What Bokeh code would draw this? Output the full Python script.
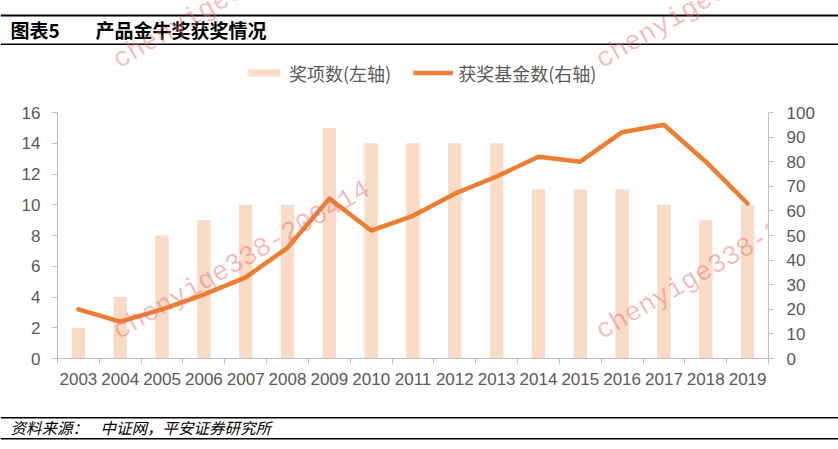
import math
from bokeh.plotting import figure
from bokeh.layouts import column
from bokeh.models import (Range1d, LinearAxis, FixedTicker, Label, Legend, LegendItem)
from bokeh.embed import file_html
from bokeh.resources import INLINE

# ---- data ----
years = ["2003", "2004", "2005", "2006", "2007", "2008", "2009", "2010", "2011",
         "2012", "2013", "2014", "2015", "2016", "2017", "2018", "2019"]
award_items = [2, 4, 8, 9, 10, 10, 15, 14, 14, 14, 14, 11, 11, 11, 10, 9, 10]
winning_funds = [20, 15, 20, 26, 33, 45, 65, 52, 58, 67, 74, 82, 80, 92, 95, 80, 63]
left_ticks = [0, 2, 4, 6, 8, 10, 12, 14, 16]
right_ticks = [0, 10, 20, 30, 40, 50, 60, 70, 80, 90, 100]
title_no = "图表5"
title_text = "产品金牛奖获奖情况"
legend_bar = "奖项数(左轴)"
legend_line = "获奖基金数(右轴)"
source_a = "资料来源："
source_b = "中证网，平安证券研究所"
watermark = "chenyige338-200414"

xs = list(range(len(years)))

BAR = "#FADBC6"
LINE = "#ED7D31"
AXIS = "#BFBFBF"
TXT = "#595959"
WM = "#EE6A6A"
W = 838
HEAD_H, MAIN_H, FOOT_H = 102, 298, 49
ANG = math.radians(30)


def plain_fig(h):
    f = figure(width=W, height=h, x_range=Range1d(0, W), y_range=Range1d(h, 0),
               x_axis_type=None, y_axis_type=None, min_border=0,
               min_border_left=0, min_border_right=0,
               min_border_top=0, min_border_bottom=0,
               output_backend="svg", toolbar_location=None)
    f.outline_line_color = None
    f.background_fill_color = "white"
    f.border_fill_color = "white"
    return f


def label(f, x, y, text, size, style="normal", font="Noto Sans CJK SC", color="black",
          angle=0.0, alpha=1.0):
    f.add_layout(Label(x=x, y=y, x_units="screen", y_units="screen", text=text,
                       text_font=font, text_font_size=size, text_font_style=style,
                       text_color=color, text_alpha=alpha, angle=angle,
                       text_baseline="middle", text_align="left"))


# ---------------- header ----------------
head = plain_fig(HEAD_H)
head.quad(left=[0, 0], right=[W, W], top=[14, 43], bottom=[16, 44.5],
          fill_color="black", line_color=None)
label(head, 10, HEAD_H - 29, title_no, "19px", "bold")
label(head, 95, HEAD_H - 29, title_text, "19px", "bold")
for wx in (115, 598):
    label(head, wx, HEAD_H - 62, watermark, "27px", font="Liberation Mono",
          color=WM, angle=ANG, alpha=0.45)
# legend swatches (same styles as the chart's renderers), kept outside the view
lg_bar = head.vbar(x=[-500], top=[1], width=0.32, fill_color=BAR, line_color=None)
lg_line = head.line(x=[-600, -590], y=[1, 1], line_color=LINE, line_width=4.5)
legend = Legend(items=[LegendItem(label=legend_bar, renderers=[lg_bar]),
                       LegendItem(label=legend_line, renderers=[lg_line])],
                location=(244, HEAD_H - 85.5), orientation="horizontal",
                glyph_width=40, glyph_height=9, label_standoff=5, spacing=22,
                padding=0, margin=0, border_line_color=None,
                background_fill_alpha=0,
                label_text_font="Noto Sans CJK SC", label_text_font_size="18px",
                label_text_color=TXT)
head.add_layout(legend)

# ---------------- main chart ----------------
p = figure(frame_width=711, frame_height=246,
           min_border_left=57, min_border_right=70,
           min_border_top=10, min_border_bottom=42,
           x_range=Range1d(-0.5, len(years) - 0.5),
           y_range=Range1d(left_ticks[0], left_ticks[-1]),
           output_backend="svg", toolbar_location=None)
p.extra_y_ranges = {"right": Range1d(right_ticks[0], right_ticks[-1])}
p.outline_line_color = None
p.xgrid.visible = False
p.ygrid.visible = False
p.background_fill_color = "white"
p.border_fill_color = "white"

bars = p.vbar(x=xs, top=award_items, width=0.32, fill_color=BAR, line_color=None)
line = p.line(x=xs, y=winning_funds, y_range_name="right", line_color=LINE,
              line_width=4.5, line_join="round", line_cap="round")

xa = p.xaxis[0]
xa.ticker = FixedTicker(ticks=xs, minor_ticks=[i - 0.5 for i in range(len(years) + 1)])
xa.major_label_overrides = {i: y for i, y in enumerate(years)}
xa.major_tick_out = 0
xa.major_tick_in = 0
xa.minor_tick_out = 5
xa.minor_tick_in = 0
xa.minor_tick_line_color = AXIS
xa.major_label_standoff = 9

ya = p.yaxis[0]
ya.ticker = FixedTicker(ticks=left_ticks)
ya.major_label_standoff = 12

ra = LinearAxis(y_range_name="right", ticker=FixedTicker(ticks=right_ticks))
ra.major_label_standoff = 13
p.add_layout(ra, "right")

for ax in (xa, ya, ra):
    ax.axis_line_color = AXIS
    ax.major_label_text_font = "Liberation Sans"
    ax.major_label_text_font_size = "17px"
    ax.major_label_text_color = TXT
for ax in (ya, ra):
    ax.major_tick_out = 5
    ax.major_tick_in = 0
    ax.major_tick_line_color = AXIS
    ax.minor_tick_line_color = None

# watermarks inside the plot area (frame-relative screen coords)
FX, FB = 57, 358
for wx in (115, 598):
    label(p, wx - FX, FB - 333, watermark, "27px", font="Liberation Mono",
          color=WM, angle=ANG, alpha=0.45)

# ---------------- footer ----------------
foot = plain_fig(FOOT_H)
foot.quad(left=[0, 0], right=[W, W], top=[16.5, 37.5], bottom=[18, 39],
          fill_color="black", line_color=None)
label(foot, 10, FOOT_H - 26, source_a, "15.5px", "italic")
label(foot, 100, FOOT_H - 26, source_b, "15.5px", "italic")

layout = column(column(head), column(p), column(foot), spacing=0)
open("out.html", "w").write(file_html(layout, INLINE))
